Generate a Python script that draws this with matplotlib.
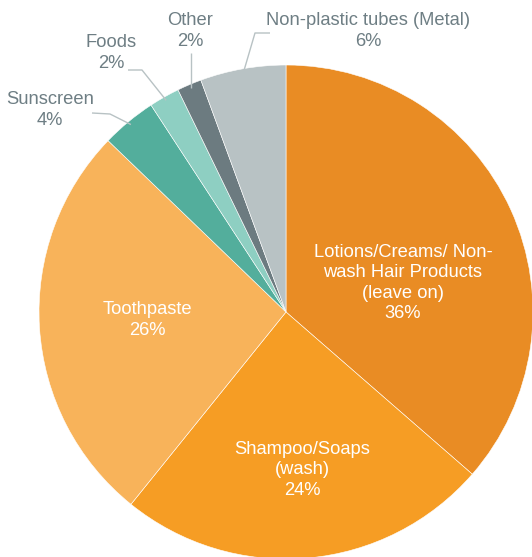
import numpy as np
import matplotlib
matplotlib.use("Agg")
import matplotlib.pyplot as plt

plt.rcParams['font.family'] = ['Liberation Sans', 'DejaVu Sans']

categories = ["Lotions/Creams/ Non-\nwash Hair Products\n(leave on)",
              "Shampoo/Soaps\n(wash)", "Toothpaste", "Sunscreen", "Foods",
              "Other", "Non-plastic tubes (Metal)"]
values = [36.4, 24.4, 26.4, 3.6, 2.0, 1.6, 5.6]
colors = ["#E98C24", "#F69D24", "#F8B35A", "#53AE9C", "#8ECFC2", "#6C7B80", "#B8C2C4"]

W, H = 532, 557
CX, CY, R = 286, 312, 247

fig = plt.figure(figsize=(W / 100, H / 100), dpi=100)
ax = fig.add_axes([0, 0, 1, 1])

def P(px, py):
    return ((px - CX) / R, (CY - py) / R)

wedges, _ = ax.pie(values, colors=colors, startangle=90, counterclock=False,
                   radius=1.0, center=(0, 0), frame=True,
                   wedgeprops=dict(edgecolor='white', linewidth=0.4))
ax.set_xlim((0 - CX) / R, (W - CX) / R)
ax.set_ylim((CY - H) / R, CY / R)
ax.set_aspect('auto')
ax.axis('off')

total = sum(values)
pcts = [f"{round(v / total * 100):.0f}%" for v in values]

fs = 13.2
ls = 1.25
inside_pos = {0: (403, 283), 1: (302, 470), 2: (147, 320)}
for i, (px, py) in inside_pos.items():
    x, y = P(px, py)
    ax.text(x, y, categories[i] + "\n" + pcts[i], ha='center', va='center',
            color='white', fontsize=fs, linespacing=ls)

gray = "#6E7E84"
line_c = "#B8C2C4"
outside = {
    3: dict(text=(50, 110), path=[(92, 113), (110, 114)]),
    4: dict(text=(111, 53), path=[(128, 70), (142, 70)]),
    5: dict(text=(190, 31), path=[(191, 53)]),
    6: dict(text=(368, 31), path=[(270, 33), (255, 33)]),
}
for i, d in outside.items():
    w = wedges[i]
    mid = np.deg2rad((w.theta1 + w.theta2) / 2)
    ex, ey = 0.985 * np.cos(mid), 0.985 * np.sin(mid)
    pts = [P(*p) for p in d['path']]
    if i == 5:
        pts.append((pts[0][0], ey))
        ex = pts[0][0]
    pts.append((ex, ey))
    xs, ys = zip(*pts)
    ax.plot(xs, ys, color=line_c, lw=1.0, solid_capstyle='butt')
    x, y = P(*d['text'])
    ax.text(x, y, categories[i] + "\n" + pcts[i], ha='center', va='center',
            color=gray, fontsize=fs, linespacing=ls)

fig.savefig("out.png", dpi=100, facecolor='white')
